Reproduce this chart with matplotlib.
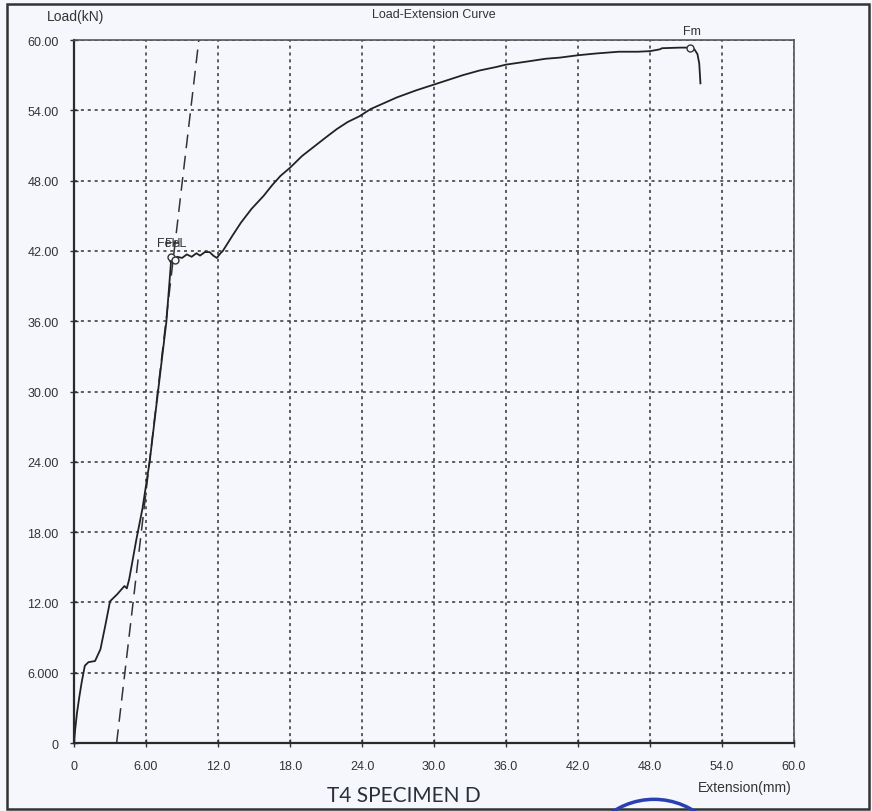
import matplotlib.pyplot as plt
from matplotlib.patches import Rectangle, Ellipse

# --- data ---
extension = [0, 0.1, 0.25, 0.45, 0.64, 0.9, 1.2, 1.75, 2.2, 2.6, 3.0, 3.6, 4.2, 4.4,
             4.6, 5.2, 5.7, 6.3, 7.0, 7.7, 8.1, 8.0, 8.3, 8.6, 9.0, 9.4, 9.8, 10.2,
             10.5, 10.9, 11.3, 11.6, 11.9, 12.2, 12.4, 13.2, 13.9, 14.8, 15.8, 16.5,
             17.2, 18.0, 19.0, 20.0, 21.0, 21.9, 22.8, 23.8, 24.7, 25.8, 26.9, 28.5,
             30.0, 32.4, 33.8, 35.2, 36.0, 38.0, 39.3, 40.5, 42.0, 43.5, 45.4, 47.0,
             48.0, 48.8, 49.0, 50.5, 51.3, 51.7, 51.95, 52.1, 52.2]
load = [0, 1.2, 2.6, 4.0, 5.2, 6.6, 6.9, 7.0, 8.0, 10.0, 12.1, 12.7, 13.4, 13.2,
        14.0, 17.4, 20.0, 24.0, 30.0, 36.0, 41.3, 41.1, 41.2, 41.5, 41.4, 41.7, 41.5, 41.8,
        41.6, 41.9, 41.9, 41.6, 41.4, 41.8, 42.0, 43.3, 44.4, 45.6, 46.7, 47.6,
        48.4, 49.1, 50.1, 50.9, 51.7, 52.4, 53.0, 53.5, 54.1, 54.6, 55.1, 55.7,
        56.2, 57.0, 57.4, 57.7, 57.9, 58.2, 58.4, 58.5, 58.7, 58.85, 59.0, 59.0,
        59.05, 59.2, 59.3, 59.35, 59.35, 59.2, 58.8, 58.0, 56.3]

# elastic (modulus) line
modulus_x = [3.55, 10.4]
modulus_y = [0, 60]

# marked points
feh_pt = (8.1, 41.5)
fel_pt = (8.4, 41.25)
fm_pt = (51.3, 59.35)

ticks = [0, 6, 12, 18, 24, 30, 36, 42, 48, 54, 60]
y_labels = ["0", "6.000", "12.00", "18.00", "24.00", "30.00", "36.00",
            "42.00", "48.00", "54.00", "60.00"]
x_labels = ["0", "6.00", "12.0", "18.0", "24.0", "30.0", "36.0",
            "42.0", "48.0", "54.0", "60.0"]

plt.rcParams['font.family'] = ['Liberation Sans', 'DejaVu Sans']
bg = "#f5f7fc"
txt = "#333333"

fig = plt.figure(figsize=(8.72, 8.12), dpi=100, facecolor=bg)
ax = fig.add_axes([0.0849, 0.0837, 0.8257, 0.8658], facecolor=bg)

ax.plot(modulus_x, modulus_y, color="#333333", lw=1.1, linestyle=(0, (9, 5)))
ax.plot(extension, load, color="#222222", lw=1.3)

for pt in (feh_pt, fel_pt, fm_pt):
    ax.plot(pt[0], pt[1], marker="o", ms=5, mfc=bg, mec="#333333", mew=1.0)

# the two yield labels are drawn almost on top of each other, as in the source
ax.text(7.9, 42.7, "FeH", fontsize=9, color=txt, ha="center", va="center")
ax.text(8.5, 42.7, "FeL", fontsize=9, color=txt, ha="center", va="center")
ax.text(51.5, 60.75, "Fm", fontsize=9, color=txt, ha="center", va="center", clip_on=False)

ax.set_xlim(0, 60)
ax.set_ylim(0, 60)
ax.set_xticks(ticks)
ax.set_yticks(ticks)
ax.set_xticklabels(x_labels)
ax.set_yticklabels(y_labels)
ax.tick_params(direction="inout", length=6, width=1, colors="#333333",
               labelsize=9, labelcolor=txt)
ax.tick_params(axis="x", pad=9)
ax.tick_params(axis="y", pad=8)

ax.grid(True, color="#333333", lw=1.1, linestyle=(0, (2, 2.5)))
ax.set_axisbelow(True)

for side in ("left", "bottom"):
    ax.spines[side].set_color("#2a2a2a")
    ax.spines[side].set_linewidth(1.6)
for side in ("top", "right"):
    ax.spines[side].set_color("#555555")
    ax.spines[side].set_linewidth(1.2)

fig.text(0.087, 0.979, "Load(kN)", fontsize=10, color=txt, ha="center", va="center")
fig.text(0.497, 0.981, "Load-Extension Curve", fontsize=9, color=txt, ha="center", va="center")
fig.text(0.854, 0.0296, "Extension(mm)", fontsize=10, color=txt, ha="center", va="center")
fig.text(0.463, 0.0197, "T4 SPECIMEN D", fontsize=15, color="#2b2f3a",
         ha="center", va="center", family=["Lato", "DejaVu Sans"])

# outer frame of the scanned sheet
fig.patches.append(Rectangle((0.008, 0.0025), 0.9886, 0.9913, transform=fig.transFigure,
                             fill=False, edgecolor="#333333", lw=1.8))
# partial stamp at the bottom edge
fig.patches.append(Ellipse((0.75, -0.078), 150 / 872, 150 / 812, transform=fig.transFigure,
                           fill=False, edgecolor="#2a3fb0", lw=2.5))

fig.savefig("out.png", dpi=100, facecolor=bg)
